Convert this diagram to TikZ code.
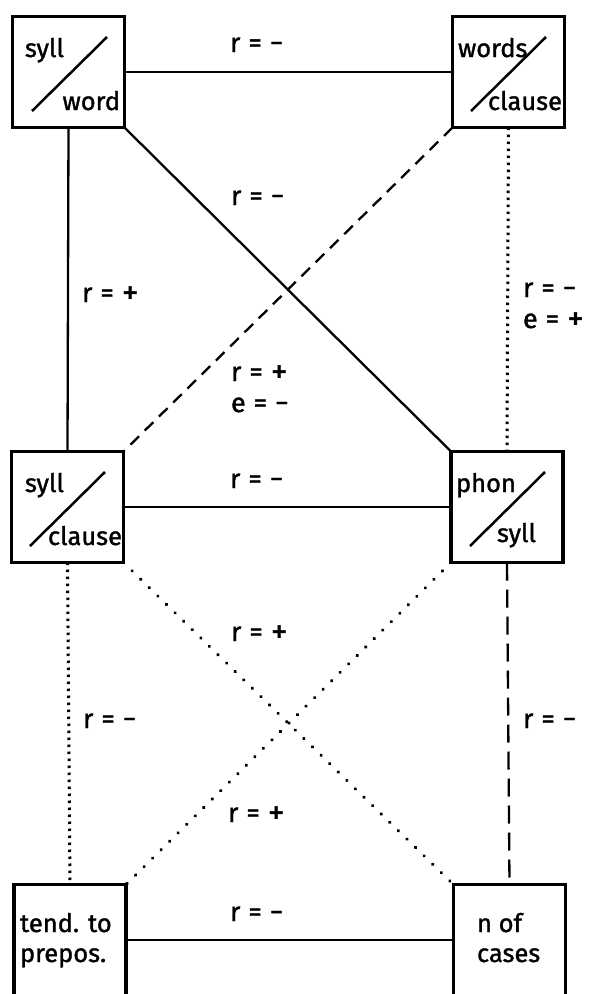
\documentclass[tikz,border=0pt]{standalone}
\usepackage{fontspec}
\setmainfont{Fira Sans}[FakeBold=1.3]
\newcommand\myg{\hspace{8pt}}
\newcommand\bigop[1]{\raisebox{-1.5pt}{\fontsize{33}{33}\selectfont #1}}
\begin{document}
\begin{tikzpicture}[x=1pt,y=-1pt,
  box/.style={draw, line width=3.4pt, minimum width=112pt, minimum height=111pt, inner sep=0pt, outer sep=0pt},
  txt/.style={font=\fontsize{25.5}{30}\selectfont, inner sep=0pt, outer sep=0pt},
  lab/.style={font=\fontsize{27}{32}\selectfont, inner sep=0pt, outer sep=0pt},
  conn/.style={line width=2.3pt},
  slash/.style={line width=2.5pt},
  dashline/.style={conn, dash pattern=on 12pt off 8pt},
  longdash/.style={conn, dash pattern=on 18pt off 9pt},
  vdots/.style={line width=3pt, dash pattern=on 2.5pt off 4.5pt},
  ddots/.style={line width=3.6pt, line cap=round, dash pattern=on 0.1pt off 11.9pt}]
\useasboundingbox (0,0) rectangle (591,994);
\clip (0,0) rectangle (591,994);
\fill[white] (0,0) rectangle (591,994);
% boxes
\node[box] (tl) at (68.5,72) {};
\node[box] (tr) at (508.5,72) {};
\node[box] (ml) at (67.5,507) {};
\node[box] (mr) at (507,507) {};
\node[box] (bl) at (70,940) {};
\node[box] (br) at (509.5,940) {};
% box texts
\node[txt, anchor=base west] (tlA) at (25,57) {syll};
\node[txt, anchor=base east] (tlB) at (120,110) {word};
\draw[slash] (32,111) -- (107,37);
\node[txt, anchor=base west] (trA) at (458,57) {words};
\node[txt, anchor=base east] (trB) at (562,110) {clause};
\draw[slash] (471,111) -- (546,37);
\node[txt, anchor=base west] (mlA) at (25,492) {syll};
\node[txt, anchor=base east] (mlB) at (122,545) {clause};
\draw[slash] (30,546) -- (105,472);
\node[txt, anchor=base west] (mrA) at (456,492) {phon};
\node[txt, anchor=base east] (mrB) at (536,542) {syll};
\draw[slash] (470,546) -- (545,472);
\node[txt, anchor=base west] (blA) at (20,932) {tend. to};
\node[txt, anchor=base west] (blB) at (20,962) {prepos.};
\node[txt, anchor=base west] (brA) at (477,932) {n of};
\node[txt, anchor=base west] (brB) at (477,962) {cases};
% connectors
\draw[conn] (tl.east) -- (tr.west);
\draw[conn] (tl.south) -- (ml.north);
\draw[conn] (tl.south east) -- (mr.north west);
\draw[dashline] (tr.south west) -- (ml.north east);
\draw[vdots] (tr.south) -- (mr.north);
\draw[conn] (ml.east) -- (mr.west);
\draw[vdots] (ml.south) -- (bl.north);
\draw[ddots] (ml.south east) -- (br.north west);
\draw[ddots] (mr.south west) -- (bl.north east);
\draw[longdash] (mr.south) -- (br.north);
\draw[conn] (bl.east) -- (br.west);
% labels
\node[lab, anchor=base west] (l1) at (230,52) {r\myg=\myg−};
\node[lab, anchor=base west] (l2) at (231,205) {r\myg=\myg−};
\node[lab, anchor=base west] (l3) at (82,302) {r\myg=\myg\bigop{+}};
\node[lab, anchor=base west] (l4a) at (523,297) {r\myg=\myg−};
\node[lab, anchor=base west] (l4b) at (523,328) {e\myg=\myg\bigop{+}};
\node[lab, anchor=base west] (l5a) at (231,381) {r\myg=\myg\bigop{+}};
\node[lab, anchor=base west] (l5b) at (231,412) {e\myg=\myg−};
\node[lab, anchor=base west] (l6) at (230,488) {r\myg=\myg−};
\node[lab, anchor=base west] (l7) at (231,641) {r\myg=\myg\bigop{+}};
\node[lab, anchor=base west] (l8) at (83,728) {r\myg=\myg−};
\node[lab, anchor=base west] (l9) at (523,728) {r\myg=\myg−};
\node[lab, anchor=base west] (l10) at (228,822) {r\myg=\myg\bigop{+}};
\node[lab, anchor=base west] (l11) at (230,921) {r\myg=\myg−};
\end{tikzpicture}
\end{document}
